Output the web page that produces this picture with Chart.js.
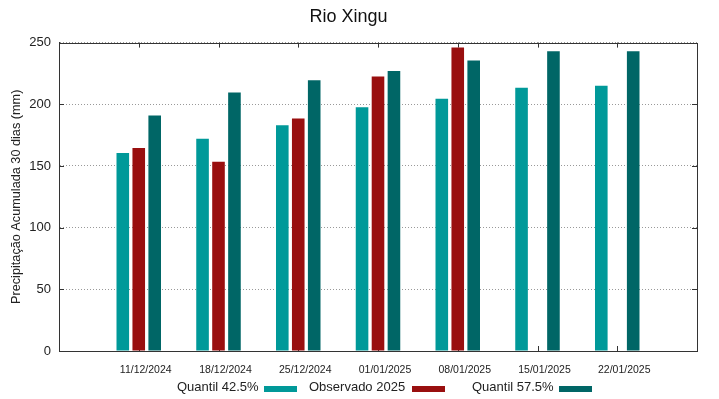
<!DOCTYPE html>
<html>
<head>
<meta charset="utf-8">
<title>Rio Xingu</title>
<script src="https://cdn.jsdelivr.net/npm/chart.js@4"></script>
<style>
  html, body { margin: 0; padding: 0; background: #fff; }
  #wrap { position: relative; width: 719px; height: 399px; font-family: "Liberation Sans", Arial, sans-serif; }
  #legend .item { position: absolute; top: 379px; height: 16px; font-size: 13px; color: #222; line-height: 16px; white-space: nowrap; }
  #legend .swatch { position: absolute; top: 386px; height: 6px; width: 33px; }
</style>
</head>
<body>
<div id="wrap">
  <canvas id="chart" width="719" height="399"></canvas>
  <div id="legend"></div>
</div>
<script>
// data
const dates = ['11/12/2024', '18/12/2024', '25/12/2024', '01/01/2025', '08/01/2025', '15/01/2025', '22/01/2025'];
const quantil425 = [160.5, 172, 183, 197.5, 204.5, 213.5, 215];
const observado2025 = [164.5, 153.5, 188.5, 222.5, 246, null, null];
const quantil575 = [191, 209.5, 219.5, 227, 235.5, 243, 243];
const yTicks = [0, 50, 100, 150, 200, 250];

// gnuplot leaves one empty slot on each side of the dates
const pad = arr => [null, ...arr, null];
const labels = ['', ...dates, ''];

// box round the plot + inward tick marks on every side
const frame = {
    id: 'frame',
    beforeDatasetsDraw(chart) {
        const { ctx, chartArea: a, scales } = chart;
        ctx.save();
        ctx.strokeStyle = '#333';
        ctx.lineWidth = 1;
        ctx.beginPath();
        scales.x.ticks.forEach((t, i) => {
            if (!labels[i]) return;
            const px = Math.round(scales.x.getPixelForTick(i)) + 0.5;
            ctx.moveTo(px, a.top); ctx.lineTo(px, a.top + 5);
            ctx.moveTo(px, a.bottom); ctx.lineTo(px, a.bottom - 5);
        });
        yTicks.forEach(v => {
            const py = Math.round(scales.y.getPixelForValue(v)) + 0.5;
            ctx.moveTo(a.left, py); ctx.lineTo(a.left + 5, py);
            ctx.moveTo(a.right, py); ctx.lineTo(a.right - 5, py);
        });
        ctx.stroke();
        ctx.restore();
    },
    afterDraw(chart) {
        const { ctx, chartArea: a } = chart;
        ctx.save();
        ctx.strokeStyle = '#333';
        ctx.lineWidth = 1;
        ctx.strokeRect(Math.round(a.left) + 0.5, Math.round(a.top) + 0.5,
            Math.round(a.right - a.left), Math.round(a.bottom - a.top));
        ctx.restore();
    }
};

const series = [
    { label: 'Quantil 42.5%', data: pad(quantil425), color: '#009999' },
    { label: 'Observado 2025', data: pad(observado2025), color: '#990f0f' },
    { label: 'Quantil 57.5%', data: pad(quantil575), color: '#006666' }
];

const chart = new Chart(document.getElementById('chart'), {
    type: 'bar',
    data: {
        labels: labels,
        datasets: series.map(s => ({
            label: s.label,
            data: s.data,
            backgroundColor: s.color,
            borderWidth: 0,
            categoryPercentage: 0.6,
            barPercentage: 0.79
        }))
    },
    options: {
        responsive: false,
        devicePixelRatio: 1,
        animation: false,
        layout: { padding: { top: 0, right: 22, left: 0, bottom: 0 } },
        font: { family: '"Liberation Sans", Arial, sans-serif' },
        plugins: {
            legend: { display: false },
            tooltip: { enabled: false },
            title: {
                display: true,
                text: 'Rio Xingu',
                color: '#111',
                font: { size: 18, weight: 'normal' },
                padding: { top: 6, bottom: 15 }
            }
        },
        scales: {
            x: {
                offset: false,
                grid: { display: false },
                border: { display: true, color: '#333' },
                ticks: {
                    color: '#222',
                    font: { size: 10.5 },
                    padding: 5,
                    labelOffset: 7, // gnuplot draws the dates a bit right of the tick
                    maxRotation: 0,
                    autoSkip: false
                },
                afterFit(s) { s.height = 48; }
            },
            y: {
                min: 0,
                max: 250,
                afterBuildTicks(s) { s.ticks = yTicks.map(v => ({ value: v })); },
                grid: { color: '#999', drawTicks: false },
                border: { display: true, color: '#333', dash: [1, 2] },
                ticks: { color: '#222', font: { size: 13 }, padding: 8 },
                title: {
                    display: true,
                    text: 'Precipitação Acumulada 30 dias (mm)',
                    color: '#222',
                    font: { size: 12.7 },
                    padding: { top: 9, bottom: 0 }
                },
                afterFit(s) { s.width = 59; }
            }
        }
    },
    plugins: [frame]
});

// legend below the plot, gnuplot style: text first, then the sample
const legendSpots = [
    { text: 177, box: 264 },
    { text: 309, box: 412 },
    { text: 472, box: 559 }
];
const legend = document.getElementById('legend');
chart.data.datasets.forEach((ds, i) => {
    const t = document.createElement('span');
    t.className = 'item';
    t.style.left = legendSpots[i].text + 'px';
    t.textContent = ds.label;
    legend.appendChild(t);
    const b = document.createElement('span');
    b.className = 'swatch';
    b.style.left = legendSpots[i].box + 'px';
    b.style.background = ds.backgroundColor;
    legend.appendChild(b);
});
</script>
</body>
</html>
